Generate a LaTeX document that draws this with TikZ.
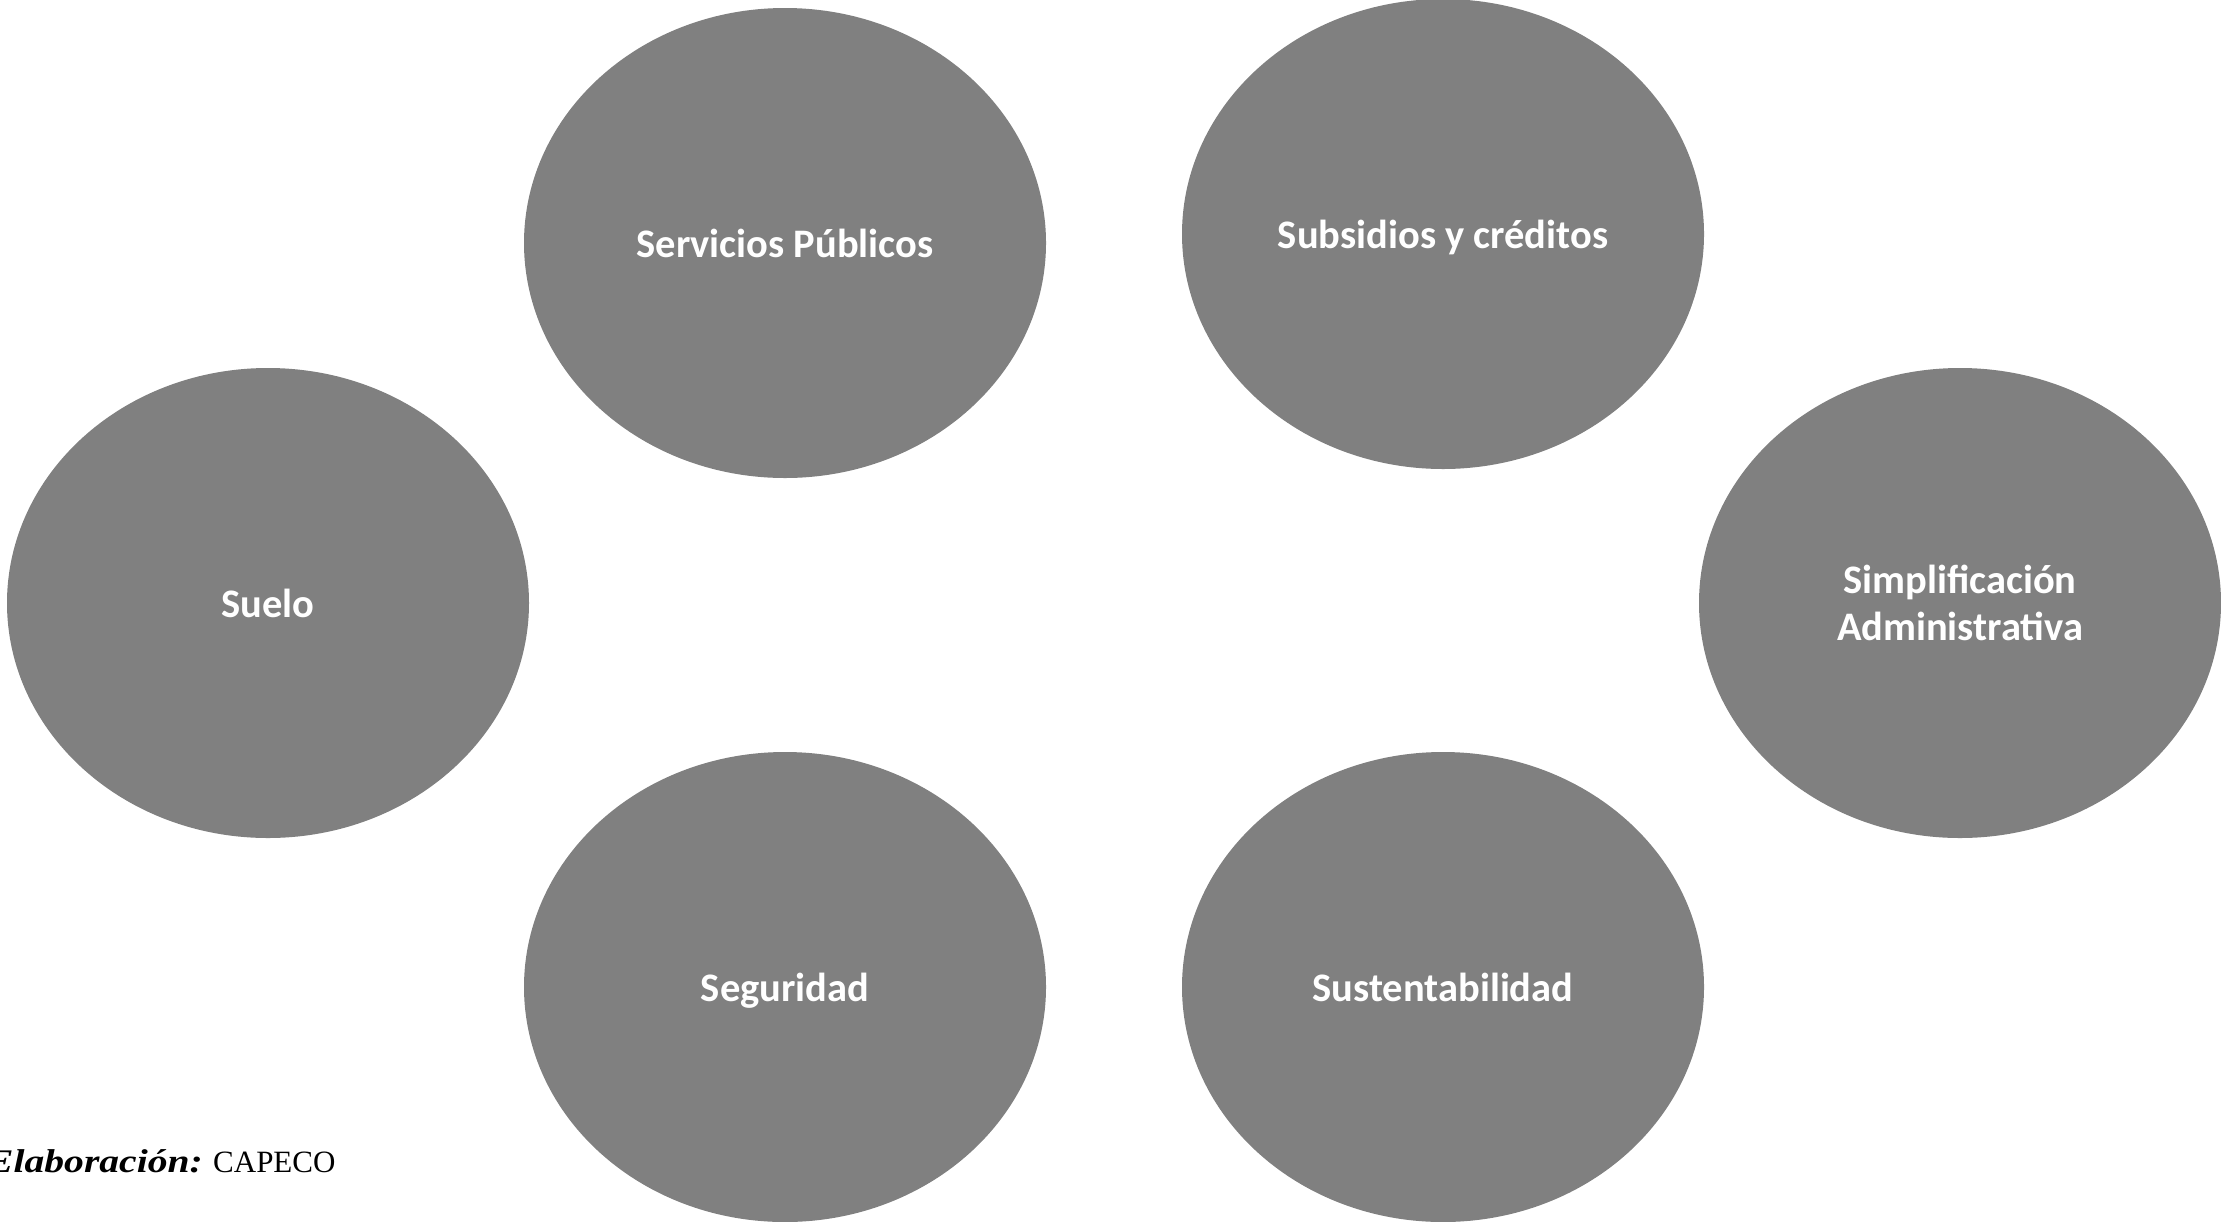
\documentclass[tikz,border=0pt]{standalone}
\usepackage{fontspec}
\setmainfont{Liberation Serif}
\newfontfamily\calibri{Carlito}
\usetikzlibrary{shapes.geometric}
\definecolor{blobgray}{HTML}{808080}
\tikzset{
  blob/.style={ellipse, fill=blobgray, draw=none, minimum width=522pt, minimum height=470pt,
    inner sep=0pt, align=center, text=white, font=\calibri\bfseries\fontsize{40.5}{47}\selectfont},
  oneline/.style={text height=29pt, text depth=0pt},
  capbold/.style={font=\fontsize{33}{38}\selectfont, inner sep=0pt, anchor=base east},
  capplain/.style={font=\fontsize{31}{36}\selectfont, inner sep=0pt, anchor=base west}
}
\begin{document}
\begin{tikzpicture}[x=1pt,y=-1pt]
\useasboundingbox (0,0) rectangle (2221,1221);
\node[blob,oneline] (serv) at (785,243) {Servicios Públicos};
\node[blob,oneline] (subs) at (1443,234) {Subsidios y créditos};
\node[blob,oneline] (suelo) at (268,603) {Suelo};
\node[blob] (simp) at (1960,603) {Simplificación\\Administrativa};
\node[blob,oneline] (seg) at (785,987) {Seguridad};
\node[blob,oneline] (sust) at (1443,987) {Sustentabilidad};
\node[capbold] (capa) at (203,1172) {\scalebox{1.2}[1]{\textbf{\textit{Elaboración:}}}};
\node[capplain] (capb) at (213,1172) {CAPECO};
\end{tikzpicture}
\end{document}
